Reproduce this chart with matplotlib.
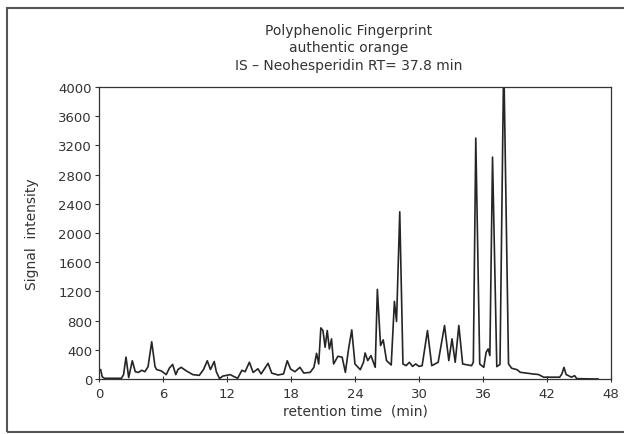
"""
plot.py

Polyphenolic fingerprint of authentic orange juice (HPLC trace),
redrawn from a scanned chromatogram. Saves the figure as out.png.
"""

import matplotlib
matplotlib.use("Agg")
import matplotlib.pyplot as plt
from matplotlib.patches import Rectangle

# Trace: retention time (min) and signal intensity
retention_time = [
    0.0, 0.15, 0.3, 0.5, 2.1, 2.3, 2.53, 2.78, 3.12, 3.4, 3.7, 4.0, 4.3, 4.6,
    4.94, 5.25, 5.4, 5.85, 6.3, 6.6, 6.9, 7.2, 7.4, 7.7, 8.2, 8.8, 9.4, 9.8,
    10.15, 10.45, 10.8, 11.0, 11.3, 11.6, 12.3, 12.7, 13.0, 13.4, 13.7, 14.1,
    14.45, 14.9, 15.2, 15.85, 16.2, 16.8, 17.3, 17.65, 17.96, 18.37, 18.84,
    19.2, 19.8, 20.15, 20.4, 20.6, 20.8, 21.0, 21.2, 21.4, 21.6, 21.8, 22.0,
    22.4, 22.8, 23.1, 23.4, 23.7, 24.0, 24.5, 24.8, 24.95, 25.2, 25.5, 25.9,
    26.1, 26.4, 26.65, 26.96, 27.4, 27.7, 27.9, 28.2, 28.5, 28.8, 29.1, 29.4,
    29.7, 30.0, 30.3, 30.8, 31.2, 31.8, 32.4, 32.8, 33.1, 33.4, 33.74, 34.1,
    34.93, 35.1, 35.33, 35.7, 36.08, 36.3, 36.49, 36.65, 36.9, 37.3, 37.6,
    37.95, 38.4, 38.7, 39.2, 39.5, 40.7, 41.2, 41.7, 43.2, 43.4, 43.6, 43.8,
    44.3, 44.6, 44.8, 46.8,
]
signal_intensity = [
    110, 130, 30, 10, 10, 60, 300, 20, 250, 100, 90, 120, 100, 170,
    510, 170, 130, 110, 60, 150, 200, 60, 130, 160, 110, 60, 50, 130,
    250, 130, 240, 100, 5, 40, 60, 30, 10, 120, 100, 230,
    90, 140, 70, 215, 80, 55, 70, 250, 137, 100, 160,
    82, 91, 160, 352, 206, 700, 664, 435, 664, 412, 550, 206,
    312, 298, 91, 412, 673, 206, 128, 229, 357, 252, 321, 160,
    1228, 458, 536, 252, 192, 1063, 788, 2290, 206, 183, 229, 173,
    206, 173, 183, 664, 183, 229, 733, 252, 550, 229, 733, 206,
    183, 229, 3300, 206, 160, 366, 412, 321, 3039, 170, 200,
    4400, 206, 147, 128, 92, 69, 62, 25, 25, 69, 160, 62,
    25, 46, 5, 0,
]

x_ticks = [0, 6, 12, 18, 24, 30, 36, 42, 48]
y_ticks = [0, 400, 800, 1200, 1600, 2000, 2400, 2800, 3200, 3600, 4000]

title_lines = [
    "Polyphenolic Fingerprint",
    "authentic orange",
    "IS \u2013 Neohesperidin RT= 37.8 min",
]


def draw_chromatogram():
    fig = plt.figure(figsize=(6.24, 4.35), dpi=100)
    ax = fig.add_axes([0.1587, 0.1264, 0.8203, 0.6713])

    ax.plot(retention_time, signal_intensity, color="#252525", linewidth=1.2)

    ax.set_xlim(0, 48)
    ax.set_ylim(0, 4000)
    ax.set_xticks(x_ticks)
    ax.set_yticks(y_ticks)
    ax.tick_params(axis="x", direction="inout", length=5, width=0.8,
                   labelsize=9.5, colors="#333333", pad=3)
    ax.tick_params(axis="y", direction="out", length=3, width=0.8,
                   labelsize=9.5, colors="#333333", pad=2)

    for spine in ax.spines.values():
        spine.set_linewidth(0.9)
        spine.set_color("#333333")

    ax.set_xlabel("retention time  (min)", fontsize=10, color="#333333", labelpad=3)
    ax.set_ylabel("Signal  intensity", fontsize=10, color="#333333", labelpad=14)

    # three-line heading above the plot box
    fig.text(0.5587, 0.945, "\n".join(title_lines), ha="center", va="top",
             fontsize=10, color="#333333", linespacing=1.3)

    # outer frame of the scanned figure
    frame = Rectangle((0.011, 0.005), 1.2, 0.974, transform=fig.transFigure,
                      fill=False, edgecolor="#555555", linewidth=1.5,
                      clip_on=False)
    fig.patches.append(frame)

    fig.savefig("out.png", dpi=100, facecolor="white")


if __name__ == "__main__":
    draw_chromatogram()
